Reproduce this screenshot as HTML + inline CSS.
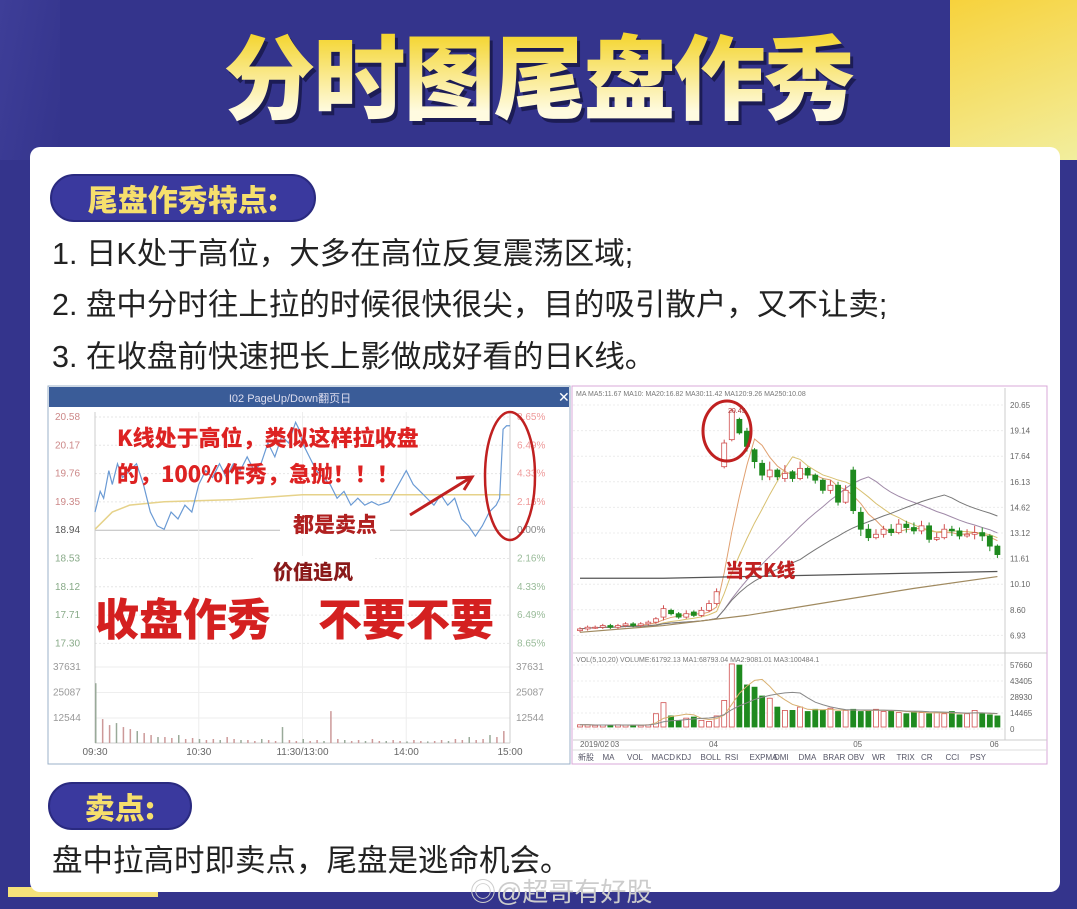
<!DOCTYPE html>
<html><head><meta charset="utf-8">
<style>
*{margin:0;padding:0;box-sizing:border-box}
body{width:1077px;height:897px;overflow:hidden;background:#34348c;font-family:"Liberation Sans","Noto Sans CJK SC",sans-serif;position:relative}
.abs{position:absolute}
#title{left:0;width:1077px;top:18px;text-align:center;font-family:"Noto Sans CJK SC",sans-serif;font-weight:900;font-size:92px;line-height:110px;letter-spacing:-2px;color:#f8e24a;background:linear-gradient(#f4d530 15%,#fffbe0 85%);-webkit-background-clip:text;background-clip:text;-webkit-text-fill-color:transparent;filter:drop-shadow(3px 4px 0 #1c1c55)}
#card{left:30px;top:147px;width:1030px;height:745px;background:#fff;border-radius:10px}
.pill{background:#3a399e;border-radius:24px;color:#f6df6c;font-family:"Noto Sans CJK SC",sans-serif;font-weight:900;font-size:30px;text-align:center;border:2px solid #2a2a80}
.line{left:52px;font-family:"Liberation Sans","Noto Sans CJK SC",sans-serif;font-size:30.5px;color:#222;white-space:nowrap}
</style></head><body>
<div class="abs" style="left:950px;top:0;width:127px;height:160px;background:linear-gradient(160deg,#f7d23c,#f2ee9e)"></div>
<div class="abs" style="left:0;top:0;width:60px;height:160px;background:linear-gradient(100deg,#3e3e98,#34348c)"></div>
<div class="abs" style="left:8px;top:887px;width:150px;height:10px;background:#f6e27a"></div>
<div class="abs" id="title">分时图尾盘作秀</div>
<div class="abs" id="card"></div>
<div class="abs pill" style="left:50px;top:174px;width:266px;height:48px;line-height:44px">尾盘作秀特点:</div>
<div class="abs line" style="top:229px">1. 日K处于高位，大多在高位反复震荡区域;</div>
<div class="abs line" style="top:280px">2. 盘中分时往上拉的时候很快很尖，目的吸引散户，又不让卖;</div>
<div class="abs line" style="top:332px">3. 在收盘前快速把长上影做成好看的日K线。</div>
<div class="abs pill" style="left:48px;top:782px;width:144px;height:48px;line-height:44px">卖点:</div>
<div class="abs line" style="top:836px">盘中拉高时即卖点，尾盘是逃命机会。</div>
<div class="abs" style="left:470px;top:872px;font-size:26px;color:#ccc">◎@超哥有好股</div>

<svg class="abs" style="left:0;top:0" width="1077" height="897" font-family="Liberation Sans, Noto Sans CJK SC, sans-serif">
<g id="left">
<rect x="48" y="386" width="522" height="378" fill="#fff" stroke="#9bb0c8"/>
<rect x="49" y="387" width="520" height="20" fill="#3a5c98"/>
<text x="290" y="402" fill="#dde" font-size="11" text-anchor="middle">I02 PageUp/Down翻页日</text>
<text x="558" y="402" fill="#fff" font-size="14">✕</text>
<g id="lgrid"></g><g id="lvol"></g>
<polyline id="lavg" fill="none" stroke="#e6d28a" stroke-width="1.5"/>
<polyline id="lprice" fill="none" stroke="#6a9ad4" stroke-width="1.2"/>
<g id="laxes" font-size="10" fill="#999"></g>
<g font-family="Noto Sans CJK SC, sans-serif" font-weight="900">
<text x="117" y="446" fill="#d22" font-size="22">K线处于高位，类似这样拉收盘</text>
<text x="117" y="482" fill="#d22" font-size="22">的，100%作秀，急抛！！！</text>
<rect x="280" y="510" width="110" height="28" fill="#fff"/>
<text x="335" y="532" fill="#b02020" font-size="21" text-anchor="middle">都是卖点</text>
<rect x="255" y="556" width="120" height="28" fill="#fff"/>
<text x="313" y="579" fill="#8a1a1a" font-size="20" text-anchor="middle">价值追风</text>
<text x="95" y="635" fill="#d42020" font-size="44">收盘作秀</text>
<text x="318" y="635" fill="#d42020" font-size="44">不要不要</text>
</g>
<ellipse cx="510" cy="476" rx="25" ry="64" fill="none" stroke="#c02020" stroke-width="2.5"/>
<path d="M410 515 L470 478 M456 478 L472 477 L464 490" fill="none" stroke="#c02020" stroke-width="3"/>
</g>
<g id="right">
<rect x="572" y="386" width="475" height="378" fill="#fff" stroke="#d9a8d8"/>
<g id="rgrid"></g><g id="rvol"></g><g id="rma"></g><g id="rcandle"></g>
<g id="raxes" font-size="8" fill="#666"></g>
<text x="576" y="396" font-size="7" fill="#777">MA  MA5:11.67  MA10:  MA20:16.82  MA30:11.42  MA120:9.26  MA250:10.08</text>
<text x="576" y="662" font-size="7" fill="#777">VOL(5,10,20)  VOLUME:61792.13  MA1:68793.04  MA2:9081.01  MA3:100484.1</text>
<ellipse cx="727" cy="431" rx="24" ry="30" fill="none" stroke="#c02020" stroke-width="3"/>
<text x="728" y="413" font-size="7" fill="#a33">20.45</text>
<text x="725" y="577" fill="#c02020" font-size="19" font-weight="900" font-family="Noto Sans CJK SC, sans-serif">当天K线</text>
<line x1="572" y1="750" x2="1047" y2="750" stroke="#ddd"/>
<g id="rtabs" font-size="8" fill="#556"></g>
</g>
</svg>
<script>
// ---- intraday data ----
const lTimes=[0,3,5,8,10,13,16,20,24,28,32,36,40,44,48,52,56,60,64,68,72,76,80,84,88,92,96,100,104,108,112,116,118,120,124,128,132,136,140,144,148,152,156,160,164,170,180,184,188,192,196,200,204,208,212,216,220,224,228,232,234,236,238,240];
const lPrices=[19.2,19.5,19.4,19.8,19.6,19.9,19.7,19.8,19.9,19.6,19.2,19.0,18.95,19.2,19.1,19.3,19.2,19.6,19.8,19.7,19.9,19.7,19.9,19.8,20.0,19.8,19.9,20.2,20.0,20.3,20.2,20.5,20.4,20.2,20.0,19.8,19.7,19.6,19.4,19.5,19.3,19.4,19.3,19.35,19.3,19.35,19.8,19.6,19.5,19.4,19.3,19.45,19.3,19.4,19.1,19.0,18.85,19.0,19.2,19.3,19.4,20.4,20.45,20.45];
const lAvgTimes=[0,10,20,40,80,120,160,240];
const lAvg=[18.95,19.2,19.3,19.35,19.38,19.45,19.45,19.45];
const lVol=[30000,12000,9000,10000,8000,7000,6000,5000,4000,3000,3000,2500,4000,2000,2500,2000,1500,2000,1500,3000,2000,1500,1500,1000,2000,1500,1000,8000,1500,1000,2000,1000,1500,1000,16000,2000,1500,1000,1500,1000,2000,1000,1000,1500,1000,800,1500,1000,800,1000,1500,1000,2000,1500,3000,1500,2000,4000,3000,6000];
const lPriceTicks=['20.58','20.17','19.76','19.35','18.94','18.53','18.12','17.71','17.30'];
const lPctTicks=['8.65%','6.49%','4.33%','2.16%','0.00%','2.16%','4.33%','6.49%','8.65%'];
const lVolTicks=['37631','25087','12544'];
const lTimeTicks=['09:30','10:30','11:30/13:00','14:00','15:00'];
// ---- daily kline data ----
const kOpen=[7.3,7.4,7.5,7.5,7.6,7.5,7.6,7.7,7.6,7.7,7.8,8.1,8.5,8.3,8.1,8.4,8.2,8.5,8.9,17.0,18.6,19.8,19.1,18.0,17.2,16.4,16.8,16.3,16.7,16.3,16.9,16.5,16.2,15.6,15.9,14.9,16.8,14.3,13.3,12.8,13.0,13.3,13.1,13.6,13.4,13.2,13.5,12.7,12.8,13.3,13.2,12.9,13.0,13.1,12.9,12.3];
const kClose=[7.4,7.5,7.5,7.6,7.5,7.6,7.7,7.6,7.7,7.8,8.0,8.6,8.3,8.1,8.3,8.2,8.5,8.9,9.6,18.4,20.3,19.0,18.2,17.3,16.5,16.8,16.4,16.6,16.3,16.9,16.5,16.2,15.6,15.9,14.9,15.6,14.4,13.3,12.8,13.0,13.3,13.1,13.6,13.4,13.2,13.5,12.7,12.8,13.3,13.2,12.9,13.0,13.1,12.9,12.3,11.8];
const kHigh=[7.5,7.6,7.6,7.7,7.7,7.7,7.8,7.8,7.8,7.9,8.1,8.8,8.6,8.4,8.5,8.5,8.7,9.1,9.8,18.6,20.45,19.9,19.3,18.1,17.4,17.3,16.9,17.1,16.8,17.3,17.0,16.6,16.3,16.2,16.1,15.9,17.0,14.6,13.6,13.3,13.5,13.6,13.9,13.8,13.7,13.8,13.7,13.1,13.6,13.5,13.4,13.3,13.5,13.4,13.0,12.4];
const kLow=[7.2,7.3,7.4,7.4,7.4,7.4,7.5,7.5,7.5,7.6,7.7,7.9,8.2,8.0,8.0,8.1,8.1,8.4,8.8,16.9,18.5,18.9,17.9,16.9,16.2,16.2,16.2,16.1,16.1,16.2,16.3,16.0,15.4,15.4,14.7,14.8,14.2,12.9,12.6,12.7,12.8,12.9,13.0,13.1,13.0,13.0,12.5,12.6,12.7,12.9,12.7,12.8,12.7,12.6,12.0,11.6];
const kVol=[2000,2000,1500,1800,1500,2000,1800,1500,1500,2000,12000,22000,10000,6000,8000,9000,6000,5000,10000,24000,57000,56000,38000,36000,28000,26000,18000,15000,15000,18000,14000,16000,15000,17000,14000,15000,16000,14000,15000,16000,14000,15000,13000,12000,14000,13000,12000,13000,12000,14000,11000,12000,15000,12000,11000,10000];
const kPriceTicks=['20.65','19.14','17.64','16.13','14.62','13.12','11.61','10.10','8.60','6.93'];
const kVolTicks=['57660','43405','28930','14465','0'];
const kMonthTicks=['2019/02','03','04','05','06'];
const kMonthIdx=[0,4,17,36,54];
const kLongA=[10.4,10.4,10.5,10.6,10.7,10.8];
const kLongB=[7.2,7.6,8.2,9.0,9.8,10.5];
const kTabs=['新股','MA','VOL','MACD','KDJ','BOLL','RSI','EXPMA','DMI','DMA','BRAR','OBV','WR','TRIX','CR','CCI','PSY'];

const NS='http://www.w3.org/2000/svg';
function mk(parent,tag,attrs){const e=document.createElementNS(NS,tag);for(const k in attrs)e.setAttribute(k,attrs[k]);document.getElementById(parent).appendChild(e);return e;}
const lx=t=>95+t/240*415;
const ly=p=>530-(p-18.94)/0.41*28.3;
const lvy=v=>743-v/12544*25;
lPriceTicks.forEach((s,i)=>{const y=417+i*28.3;
 const g=mk('lgrid','line',{x1:95,x2:510,y1:y,y2:y,stroke:i==4?'#bbb':'#e6e6e6','stroke-dasharray':i==4?'':'2,2'});
 
 const t=mk('laxes','text',{x:55,y:y+3,fill:i<4?'#c88':i==4?'#555':'#8a8'});t.textContent=s;
 
 const t2=mk('laxes','text',{x:517,y:y+3,fill:i<4?'#e99':i==4?'#888':'#9b9'});t2.textContent=lPctTicks[i];
 });
lVolTicks.forEach((s,i)=>{const y=667+i*25.5;
 const t=mk('laxes','text',{x:53,y:y+3});t.textContent=s;
 const t2=mk('laxes','text',{x:516,y:y+3});t2.textContent=s;
 mk('lgrid','line',{x1:95,x2:510,y1:y,y2:y,stroke:'#eee'});});
lTimeTicks.forEach((s,i)=>{const x=95+i*103.75;
 const t=mk('laxes','text',{x:x,y:755,'text-anchor':'middle',fill:'#666'});t.textContent=s;
 
 mk('lgrid','line',{x1:x,x2:x,y1:412,y2:743,stroke:'#eee'});});
mk('lgrid','line',{x1:95,x2:95,y1:412,y2:743,stroke:'#ccc'});mk('lgrid','line',{x1:510,x2:510,y1:412,y2:743,stroke:'#ccc'});
mk('lgrid','line',{x1:95,x2:510,y1:743,y2:743,stroke:'#ccc'});
document.getElementById('lprice').setAttribute('points',lTimes.map((t,i)=>lx(t)+','+ly(lPrices[i])).join(' '));
document.getElementById('lprice');
document.getElementById('lavg').setAttribute('points',lAvgTimes.map((t,i)=>lx(t)+','+ly(lAvg[i])).join(' '));
document.getElementById('lavg');
lVol.forEach((v,i)=>{const x=lx(i*4);const r=mk('lvol','rect',{x:x,y:lvy(v),width:1.5,height:743-lvy(v),fill:i%3==0?'#9a9':'#c99'});
 });
const N=kClose.length;
const kx=i=>580+i*(425/N);
const ky=p=>405+(20.65-p)*16.9;
const kvy=v=>727-v/14465*16;
kPriceTicks.forEach((s,i)=>{const y=405+i*25.6;
 mk('rgrid','line',{x1:573,x2:1005,y1:y,y2:y,stroke:'#ececec','stroke-dasharray':'2,2'});
 const t=mk('raxes','text',{x:1010,y:y+3});t.textContent=s;});
mk('rgrid','line',{x1:1005,x2:1005,y1:388,y2:740,stroke:'#ccc'});
mk('rgrid','line',{x1:573,x2:1047,y1:653,y2:653,stroke:'#ccc'});
mk('rgrid','line',{x1:573,x2:1047,y1:740,y2:740,stroke:'#ccc'});
kVolTicks.forEach((s,i)=>{const y=665+i*16;
 mk('rgrid','line',{x1:573,x2:1005,y1:y,y2:y,stroke:'#eee','stroke-dasharray':'2,2'});
 const t=mk('raxes','text',{x:1010,y:y+3});t.textContent=s;});
kMonthTicks.forEach((s,i)=>{const t=mk('raxes','text',{x:kx(kMonthIdx[i]),y:747});t.textContent=s;
 });
kTabs.forEach((s,i)=>{const t=mk('rtabs','text',{x:578+i*24.5,y:760});t.textContent=s;
 });
function ma(arr,n){return arr.map((_,i)=>{const s=Math.max(0,i-n+1);const sl=arr.slice(s,i+1);return sl.reduce((a,b)=>a+b,0)/sl.length;});}
[[5,'#e0a070'],[10,'#d8c070'],[20,'#a08aa8'],[30,'#777']].forEach(([n,c])=>{const m=ma(kClose,n);
 const p=mk('rma','polyline',{points:m.map((v,i)=>kx(i)+','+ky(v)).join(' '),fill:'none',stroke:c,'stroke-width':1});
 });
[[kLongA,'#555'],[kLongB,'#a08a60']].forEach(([arr,c])=>{const p=mk('rma','polyline',{points:arr.map((v,i)=>kx(i*(N-1)/(arr.length-1))+','+ky(v)).join(' '),fill:'none',stroke:c,'stroke-width':1.2});
 });
[[5,'#d8b070'],[10,'#888']].forEach(([n,c])=>{const m=ma(kVol,n);const p=mk('rma','polyline',{points:m.map((v,i)=>kx(i)+','+kvy(v)).join(' '),fill:'none',stroke:c,'stroke-width':1});
 });
const w=5;
kClose.forEach((c,i)=>{const o=kOpen[i];const up=c>=o;const col=up?'#d05050':'#1f8a1f';const x=kx(i);
 const wk=mk('rcandle','line',{x1:x,x2:x,y1:ky(kHigh[i]),y2:ky(kLow[i]),stroke:col});
 
 const top=ky(Math.max(o,c)),h=Math.max(1,Math.abs(ky(o)-ky(c)));
 const b=mk('rcandle','rect',{x:x-w/2,y:top,width:w,height:h,fill:up?'#fff':col,stroke:col,'stroke-width':0.8});
 
 const vb=mk('rvol','rect',{x:x-w/2,y:kvy(kVol[i]),width:w,height:727-kvy(kVol[i]),fill:up?'#fff':col,stroke:col,'stroke-width':0.8});
 });
</script>
</body></html>
